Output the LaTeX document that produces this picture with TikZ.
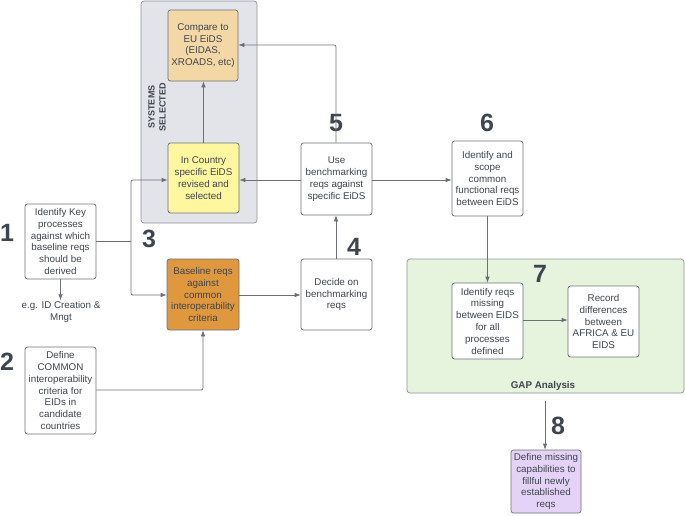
\documentclass[tikz,border=0pt]{standalone}
\usepackage{fontspec}
\setmainfont{Liberation Sans}
\usetikzlibrary{arrows.meta}
\definecolor{txt}{HTML}{3E454E}
\definecolor{ln}{HTML}{6B7078}
\definecolor{grp}{HTML}{E3E4EA}
\definecolor{grpb}{HTML}{8E9199}
\definecolor{tan}{HTML}{F3D8A6}
\definecolor{yel}{HTML}{FFF6A0}
\definecolor{org}{HTML}{E0983E}
\definecolor{grn}{HTML}{E6F3DD}
\definecolor{pur}{HTML}{E4D3F7}
\tikzset{
  box/.style={draw=ln, line width=0.7pt, rounded corners=2.5pt, fill=white, align=center,
    font=\fontsize{9.8}{11.8}\selectfont, text=txt, inner sep=0pt},
  num/.style={font=\fontsize{25}{25}\selectfont\bfseries, text=txt, inner sep=0pt},
  conn/.style={draw=ln, line width=0.7pt, -{Latex[length=6pt,width=4.5pt]}, rounded corners=2pt},
  plain/.style={draw=ln, line width=0.7pt, rounded corners=2pt},
}
\begin{document}
\begin{tikzpicture}[x=1pt,y=-1pt]
\useasboundingbox (0,0) rectangle (685,515);
% containers
\node[draw=grpb, fill=grp, line width=0.7pt, rounded corners=3pt, minimum width=116pt, minimum height=222pt, inner sep=0pt] (sys) at (199,112) {};
\node[rotate=90, font=\fontsize{9}{11}\selectfont\bfseries, text=txt, align=center] (syslbl) at (157,107) {SYSTEMS\\SELECTED};
\node[draw=grpb, fill=grn, line width=0.7pt, rounded corners=3pt, minimum width=277pt, minimum height=134pt, inner sep=0pt] (gap) at (545.5,326) {};
\node[font=\fontsize{9.8}{12}\selectfont\bfseries, text=txt] (gaplbl) at (543,386) {GAP Analysis};
% boxes
\node[box, fill=tan, minimum width=70pt, minimum height=71pt] (cmp) at (203,45.5) {Compare to\\EU EiDS\\(EIDAS,\\XROADS, etc)};
\node[box, fill=yel, minimum width=71pt, minimum height=70pt] (inc) at (203.5,178) {In Country\\specific EiDS\\revised and\\selected};
\node[box, minimum width=71pt, minimum height=75pt] (b1) at (60.5,241.5) {Identify Key\\processes\\against which\\baseline reqs\\should be\\derived};
\node[font=\fontsize{9.8}{11.8}\selectfont, text=txt, align=center, inner sep=0pt] (eg) at (61,312) {e.g. ID Creation \&\\Mngt};
\node[box, minimum width=71pt, minimum height=87pt] (b2) at (60.5,390.5) {Define\\COMMON\\interoperability\\criteria for\\EIDs in\\candidate\\countries};
\node[box, fill=org, minimum width=72pt, minimum height=71pt] (base) at (203,294.5) {Baseline reqs\\against\\common\\interoperability\\criteria};
\node[box, minimum width=71pt, minimum height=71pt] (dec) at (336.5,294.5) {Decide on\\benchmarking\\reqs};
\node[box, minimum width=71pt, minimum height=72pt] (use) at (336.5,179) {Use\\benchmarking\\reqs against\\specific EiDS};
\node[box, minimum width=71pt, minimum height=75pt] (b6) at (487.5,178.5) {Identify and\\scope\\common\\functional reqs\\between EiDS};
\node[box, minimum width=71pt, minimum height=76pt] (b7a) at (487.5,321) {Identify reqs\\missing\\between EIDS\\for all\\processes\\defined};
\node[box, minimum width=71pt, minimum height=71pt] (b7b) at (603.5,321.5) {Record\\differences\\between\\AFRICA \& EU\\EIDS};
\node[box, fill=pur, minimum width=70pt, minimum height=63pt] (b8) at (546,481.5) {Define missing\\capabilities to\\fillful newly\\established\\reqs};
% numbers
\node[num] (n1) at (7,233) {1};
\node[num] (n2) at (7,362) {2};
\node[num] (n3) at (149,239) {3};
\node[num] (n4) at (354,247) {4};
\node[num] (n5) at (336,123) {5};
\node[num] (n6) at (487,123) {6};
\node[num] (n7) at (540,274) {7};
\node[num] (n8) at (558,426) {8};
% connectors
\coordinate (j1) at (131,241);
\coordinate (g8) at (545,401);
\draw[plain] (b1.east |- j1) -- (j1);
\draw[conn] (j1) -- (131,180) -- (inc.west |- 0,180);
\draw[conn] (j1) -- (131,295) -- (base.west |- 0,295);
\draw[conn] (b1.south) -- ++(0,21);
\draw[conn] (b2.east |- 0,390) -| (base.south);
\draw[conn] (base.east |- 0,295) -- (dec.west |- 0,295);
\draw[conn] (dec.north -| 336,0) -- (use.south -| 336,0);
\draw[conn] (use.west |- 0,180) -- (inc.east |- 0,180);
\draw[conn] (inc.north) -- (cmp.south -| inc.north);
\draw[conn] (use.north -| 336,0) |- (cmp.east |- 0,45);
\draw[conn] (use.east |- 0,180) -- (b6.west |- 0,180);
\draw[conn] (b6.south) -- (b7a.north);
\draw[conn] (b7a.east |- 0,320) -- (b7b.west |- 0,320);
\draw[conn] (g8) -- (g8 |- b8.north);
\end{tikzpicture}
\end{document}
